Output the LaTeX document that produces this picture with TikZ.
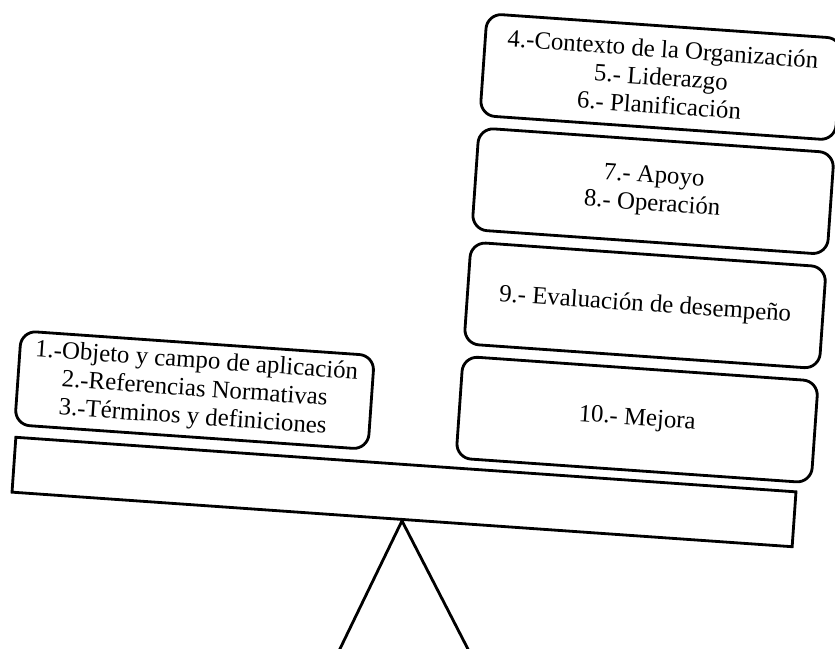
\documentclass[tikz,border=0pt]{standalone}
\usepackage{fontspec}
\setmainfont{Liberation Serif}
\usetikzlibrary{positioning}
\tikzstyle{plato} = [rectangle, draw=black, line width=2.4pt, minimum width=23.46cm, minimum height=1.65cm, inner sep=0pt]
\tikzstyle{clausula} = [rectangle, rounded corners=0.45cm, draw=black, line width=2.4pt, fill=white, minimum width=10.68cm, minimum height=3.06cm, text centered, align=center, font=\fontsize{21.2}{24}\selectfont]
\tikzstyle{soporte} = [line width=2.4pt]

\begin{document}
\begin{tikzpicture}[x=0.03cm, y=-0.03cm, node distance=0.29cm]
\useasboundingbox (0,0) rectangle (835,649);

\begin{scope}[rotate around={-4:(404,492)}, transform shape]
        % Beam of the balance
        \node[plato] (plato) at (404,492) {};

        % Left pan
        \node[clausula, minimum width=10.62cm, minimum height=2.82cm] (generales) at (188,405) {1.-Objeto y campo de aplicación\\2.-Referencias Normativas\\3.-Términos y definiciones};

        % Right pan, stacked upwards
        \node[clausula] (mejora) at (631.5,403.5) {10.- Mejora};
        \node[clausula, above=of mejora] (evaluacion) {9.- Evaluación de desempeño};
        \node[clausula, above=of evaluacion] (apoyo) {7.- Apoyo\\8.- Operación};
        \node[clausula, above=of apoyo] (contexto) {4.-Contexto de la Organización\\5.- Liderazgo\\6.- Planificación};
\end{scope}

        % Fulcrum
        \coordinate (baseL) at (337,655);
        \coordinate (baseR) at (471,655);
        \draw[soporte] (baseL) -- (plato.south) -- (baseR);

\end{tikzpicture}
\end{document}
